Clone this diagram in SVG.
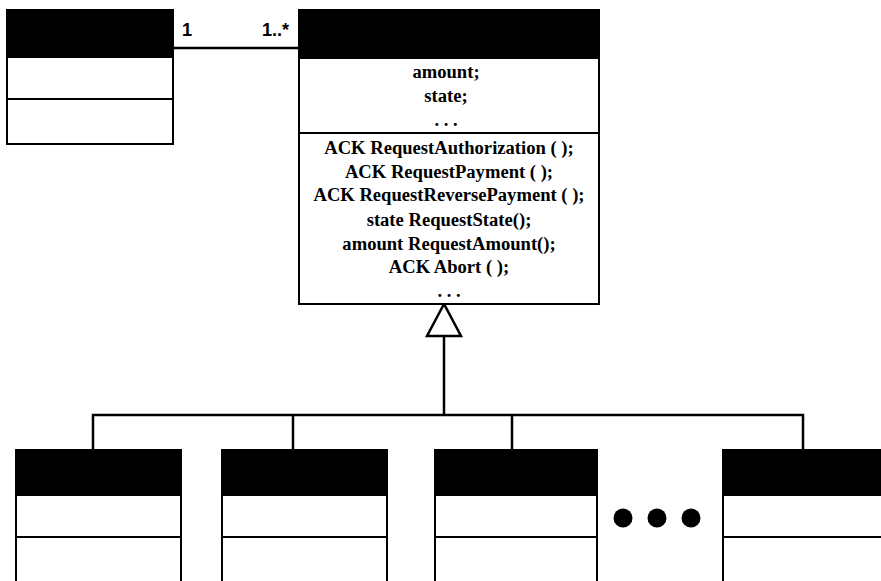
<svg xmlns="http://www.w3.org/2000/svg" width="881" height="581" viewBox="0 0 881 581">
<style>
.box{fill:#fff;stroke:#000;stroke-width:2}
.hdr{fill:#000;stroke:#000;stroke-width:2}
.div{stroke:#000;stroke-width:2}
.ln{fill:none;stroke:#000;stroke-width:2.5}
.t{font-family:"Liberation Serif","Times New Roman",serif;font-size:18.6px;font-weight:bold;fill:#000;text-anchor:middle}
.m{font-family:"Liberation Sans",Arial,sans-serif;font-size:18px;font-weight:bold;fill:#000}
</style>
<rect width="881" height="581" fill="#fff"/>
<g id="connectors">
<line class="ln" x1="173" y1="48" x2="299" y2="48"/>
<text class="m" x="182" y="36">1</text>
<text class="m" x="262" y="36">1..*</text>
<polyline class="ln" points="444,336 444,415"/>
<polygon points="444,304 427,336 461,336" fill="#fff" stroke="#000" stroke-width="2.5"/>
<polyline class="ln" points="93,450 93,415 803,415 803,450"/>
<line class="ln" x1="293" y1="415" x2="293" y2="450"/>
<line class="ln" x1="512" y1="415" x2="512" y2="450"/>
</g>
<g id="client">
<rect class="box" x="7" y="10" width="166" height="134"/>
<rect class="hdr" x="7" y="10" width="166" height="47"/>
<line class="div" x1="7" y1="99" x2="173" y2="99"/>
</g>
<g id="payment">
<rect class="box" x="299" y="10" width="300" height="294"/>
<rect class="hdr" x="299" y="10" width="300" height="48"/>
<line class="div" x1="299" y1="133" x2="599" y2="133"/>
<text class="t" x="446" y="78">amount;</text>
<text class="t" x="446" y="102">state;</text>
<text class="t" x="446" y="126">. . .</text>
<text class="t" x="449" y="154">ACK RequestAuthorization ( );</text>
<text class="t" x="449" y="178">ACK RequestPayment ( );</text>
<text class="t" x="449" y="201">ACK RequestReversePayment ( );</text>
<text class="t" x="449" y="226">state  RequestState();</text>
<text class="t" x="449" y="250">amount RequestAmount();</text>
<text class="t" x="449" y="273">ACK Abort ( );</text>
<text class="t" x="449" y="297">. . .</text>
</g>
<g id="sub1">
<rect class="box" x="16" y="450" width="165" height="135"/>
<rect class="hdr" x="16" y="450" width="165" height="45"/>
<line class="div" x1="16" y1="537" x2="181" y2="537"/>
</g>
<g id="sub2">
<rect class="box" x="222" y="450" width="165" height="135"/>
<rect class="hdr" x="222" y="450" width="165" height="45"/>
<line class="div" x1="222" y1="537" x2="387" y2="537"/>
</g>
<g id="sub3">
<rect class="box" x="435" y="450" width="162" height="135"/>
<rect class="hdr" x="435" y="450" width="162" height="45"/>
<line class="div" x1="435" y1="537" x2="597" y2="537"/>
</g>
<g id="dots">
<circle cx="623" cy="518" r="9.5" fill="#000"/>
<circle cx="657" cy="518" r="9.5" fill="#000"/>
<circle cx="691" cy="518" r="9.5" fill="#000"/>
</g>
<g id="sub4">
<rect class="box" x="723" y="450" width="170" height="135"/>
<rect class="hdr" x="723" y="450" width="170" height="45"/>
<line class="div" x1="723" y1="537" x2="893" y2="537"/>
</g>
</svg>
